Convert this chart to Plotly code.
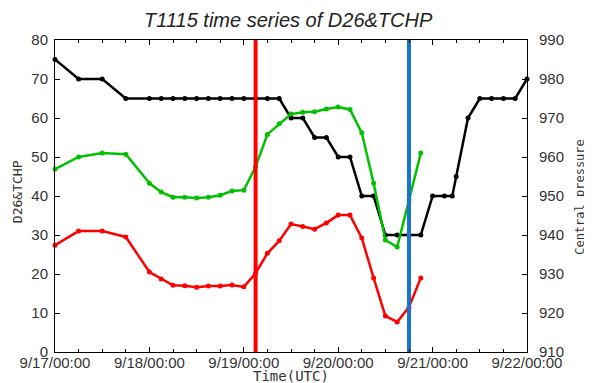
import plotly.graph_objects as go

# ---- data ----
pressure_times = [
    "2011-09-17 00:00", "2011-09-17 06:00", "2011-09-17 12:00", "2011-09-17 18:00",
    "2011-09-18 00:00", "2011-09-18 03:00", "2011-09-18 06:00", "2011-09-18 09:00",
    "2011-09-18 12:00", "2011-09-18 15:00", "2011-09-18 18:00", "2011-09-18 21:00",
    "2011-09-19 00:00", "2011-09-19 03:00", "2011-09-19 06:00", "2011-09-19 09:00",
    "2011-09-19 12:00", "2011-09-19 15:00", "2011-09-19 18:00", "2011-09-19 21:00",
    "2011-09-20 00:00", "2011-09-20 03:00", "2011-09-20 06:00", "2011-09-20 09:00",
    "2011-09-20 12:00", "2011-09-20 15:00", "2011-09-20 18:00", "2011-09-20 21:00",
    "2011-09-21 00:00", "2011-09-21 03:00", "2011-09-21 05:00", "2011-09-21 06:00",
    "2011-09-21 09:00", "2011-09-21 12:00", "2011-09-21 15:00", "2011-09-21 18:00",
    "2011-09-21 21:00", "2011-09-22 00:00",
]
central_pressure = [
    985, 980, 980, 975,
    975, 975, 975, 975, 975, 975, 975, 975,
    975, 975, 975, 975,
    970, 970, 965, 965,
    960, 960, 950, 950,
    940, 940, 940, 940,
    950, 950, 950, 955,
    970, 975, 975, 975,
    975, 980,
]

ocean_times = [
    "2011-09-17 00:00", "2011-09-17 06:00", "2011-09-17 12:00", "2011-09-17 18:00",
    "2011-09-18 00:00", "2011-09-18 03:00", "2011-09-18 06:00", "2011-09-18 09:00",
    "2011-09-18 12:00", "2011-09-18 15:00", "2011-09-18 18:00", "2011-09-18 21:00",
    "2011-09-19 00:00", "2011-09-19 03:00", "2011-09-19 06:00", "2011-09-19 09:00",
    "2011-09-19 12:00", "2011-09-19 15:00", "2011-09-19 18:00", "2011-09-19 21:00",
    "2011-09-20 00:00", "2011-09-20 03:00", "2011-09-20 06:00", "2011-09-20 09:00",
    "2011-09-20 12:00", "2011-09-20 15:00", "2011-09-20 18:00", "2011-09-20 21:00",
]
tchp = [
    46.9, 50.0, 51.0, 50.7, 43.3, 41.0, 39.7, 39.7,
    39.5, 39.7, 40.2, 41.3, 41.5, 47.5, 55.8, 58.5,
    61.0, 61.5, 61.6, 62.3, 62.8, 62.2, 56.2, 43.3,
    28.7, 26.9, 39.0, 51.0,
]
d26 = [
    27.4, 31.0, 31.0, 29.5, 20.5, 18.7, 17.1, 17.0,
    16.6, 16.9, 16.9, 17.2, 16.7, 20.2, 25.3, 28.5,
    32.8, 32.2, 31.5, 33.1, 35.1, 35.1, 29.2, 19.0,
    9.2, 7.7, 11.5, 19.0,
]

event_times = ["2011-09-19 03:00", "2011-09-20 18:00"]
event_colors = ["#ff0000", "#1874cd"]

x_range = ["2011-09-17 00:00", "2011-09-22 00:00"]
left_range = [0, 80]
right_range = [910, 990]

# ---- figure ----
fig = go.Figure()

fig.add_trace(go.Scatter(
    x=pressure_times, y=central_pressure, yaxis="y",
    mode="lines+markers", line=dict(color="black", width=2.5),
    marker=dict(color="black", size=5), cliponaxis=False, showlegend=False))

fig.add_trace(go.Scatter(
    x=ocean_times, y=d26, yaxis="y2",
    mode="lines+markers", line=dict(color="#ff0000", width=2.5),
    marker=dict(color="#ff0000", size=5), cliponaxis=False, showlegend=False))

fig.add_trace(go.Scatter(
    x=ocean_times, y=tchp, yaxis="y2",
    mode="lines+markers", line=dict(color="#00c000", width=2.5),
    marker=dict(color="#00c000", size=5), cliponaxis=False, showlegend=False))

for t, c in zip(event_times, event_colors):
    fig.add_trace(go.Scatter(
        x=[t, t], y=left_range, yaxis="y2", mode="lines",
        line=dict(color=c, width=4), showlegend=False, hoverinfo="skip"))

tick_font = dict(family="Liberation Sans, Arial, sans-serif", size=15, color="#333333")
mono = dict(family="DejaVu Sans Mono, monospace", size=13, color="#333333")
mono_r = dict(family="DejaVu Sans Mono, monospace", size=12, color="#333333")
mono_x = dict(family="DejaVu Sans Mono, monospace", size=14, color="#333333")

# The page body adds an 8px offset, so the figure is sized 8px smaller.
fig.update_layout(
    width=584, height=375,
    margin=dict(l=47, r=65, t=32, b=31, autoexpand=False),
    paper_bgcolor="white", plot_bgcolor="white",
    title=dict(text="<i>T1115 time series of D26&TCHP</i>", xref="paper", x=0.494,
               xanchor="center", y=0.968, yanchor="middle",
               font=dict(family="Liberation Sans, Arial, sans-serif", size=20, color="#222222")),
    xaxis=dict(
        type="date", range=x_range, tickformat="%-m/%d/%H:%M", dtick=86400000,
        showgrid=False, zeroline=False, showline=True, linecolor="black", linewidth=1,
        mirror="ticks", ticks="inside", ticklen=5, tickcolor="black",
        minor=dict(dtick=21600000, ticks="inside", ticklen=3, tickcolor="black", showgrid=False),
        tickfont=tick_font, ticklabelstandoff=-3, automargin=False,
    ),
    yaxis=dict(
        range=right_range, side="right", dtick=10,
        showgrid=False, zeroline=False, showline=True, linecolor="black", linewidth=1,
        ticks="inside", ticklen=5, tickcolor="black", tickfont=tick_font, automargin=False,
        ticklabelstandoff=8,
    ),
    yaxis2=dict(
        range=left_range, side="left", overlaying="y", dtick=10,
        showgrid=False, zeroline=False, showline=True, linecolor="black", linewidth=1,
        ticks="inside", ticklen=5, tickcolor="black", tickfont=tick_font, automargin=False,
        ticklabelstandoff=3,
    ),
    annotations=[
        dict(text="Time(UTC)", xref="paper", yref="paper", x=0.5, y=-0.077,
             xanchor="center", yanchor="middle", showarrow=False, font=mono_x),
        dict(text="D26&TCHP", xref="paper", yref="paper", x=-0.078, y=0.513,
             xanchor="center", yanchor="middle", textangle=-90, showarrow=False, font=mono),
        dict(text="Central pressure", xref="paper", yref="paper", x=1.112, y=0.497,
             xanchor="center", yanchor="middle", textangle=-90, showarrow=False, font=mono_r),
    ],
)

fig.write_html("out.html")
